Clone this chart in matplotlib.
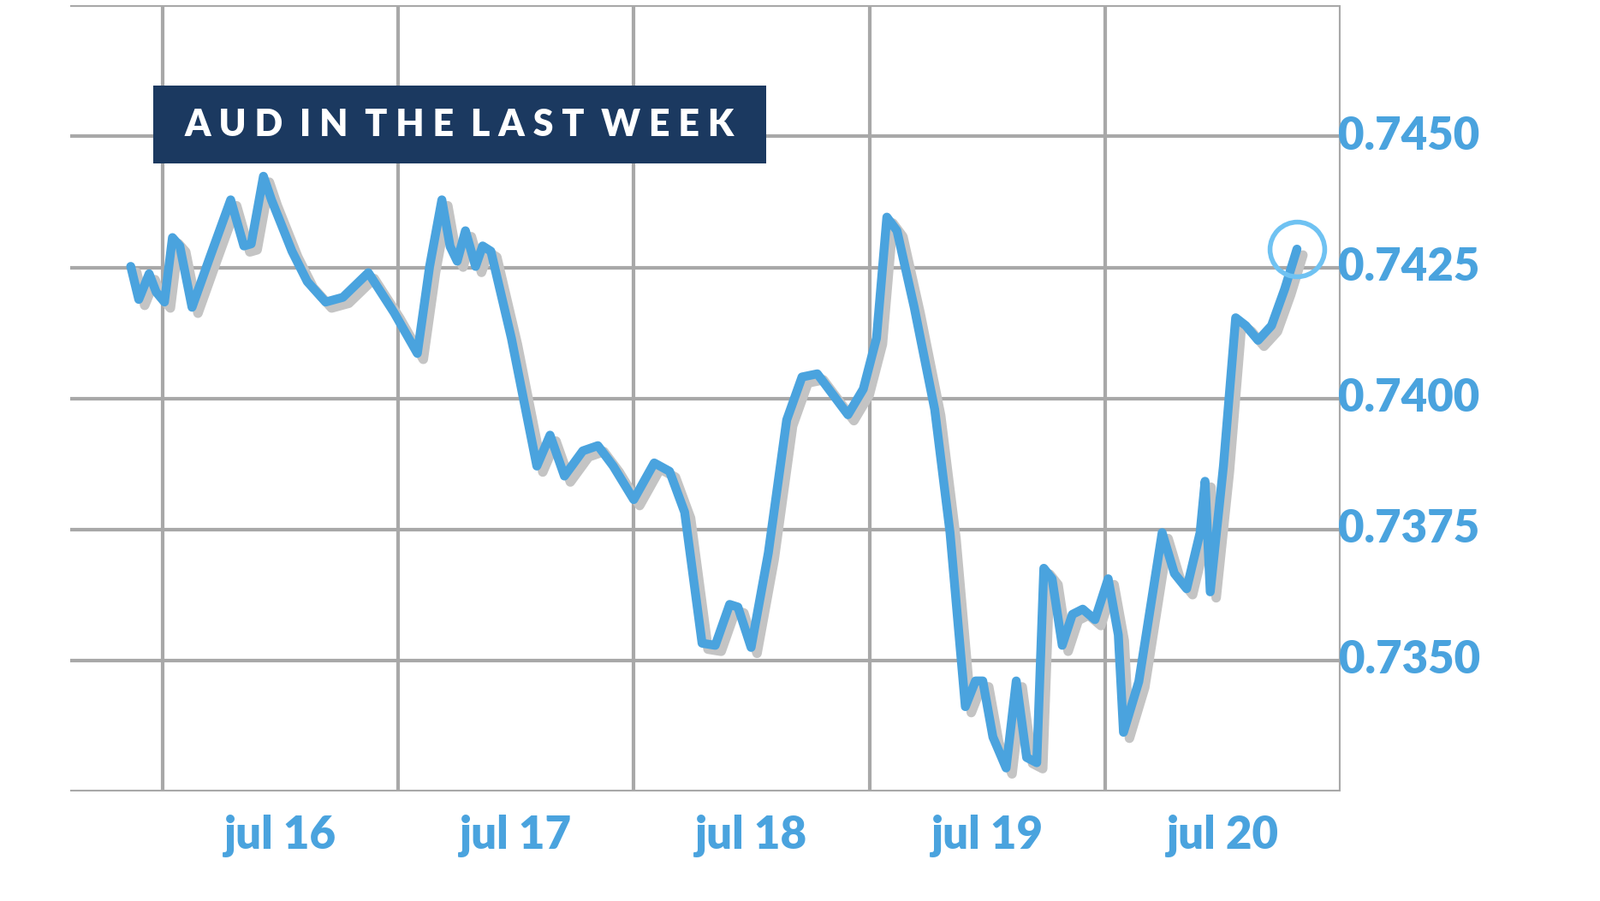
import matplotlib.pyplot as plt
import matplotlib.transforms as mtransforms
from matplotlib.patches import Rectangle

# Tage seit 16. Juli 00:00 und AUD-Kurs
days = [-0.134, -0.100, -0.056, -0.026, 0.009, 0.043, 0.074, 0.126, 0.203, 0.290,
        0.346, 0.377, 0.429, 0.463, 0.550, 0.615, 0.693, 0.766, 0.874, 0.983,
        1.082, 1.134, 1.186, 1.221, 1.251, 1.286, 1.329, 1.359, 1.394, 1.481,
        1.589, 1.645, 1.706, 1.784, 1.848, 1.913, 2.000, 2.087, 2.152, 2.216,
        2.290, 2.346, 2.407, 2.442, 2.498, 2.571, 2.649, 2.714, 2.779, 2.844,
        2.909, 2.974, 3.030, 3.074, 3.117, 3.190, 3.277, 3.342, 3.407, 3.450,
        3.481, 3.524, 3.580, 3.623, 3.667, 3.710, 3.740, 3.775, 3.818, 3.861,
        3.905, 3.957, 4.013, 4.056, 4.078, 4.143, 4.242, 4.294, 4.346, 4.403,
        4.424, 4.446, 4.502, 4.554, 4.597, 4.649, 4.706, 4.762, 4.814]
rates = [0.74252, 0.74189, 0.74238, 0.74203, 0.74184, 0.74307, 0.74291, 0.74174, 0.74271, 0.74379,
         0.74291, 0.74295, 0.74424, 0.74379, 0.74281, 0.74223, 0.74184, 0.74193, 0.74240, 0.74164,
         0.74086, 0.74252, 0.74379, 0.74290, 0.74262, 0.74320, 0.74252, 0.74291, 0.74281, 0.74115,
         0.73871, 0.73930, 0.73852, 0.73900, 0.73910, 0.73871, 0.73807, 0.73877, 0.73861, 0.73783,
         0.73533, 0.73529, 0.73607, 0.73602, 0.73525, 0.73705, 0.73959, 0.74041, 0.74047, 0.74008,
         0.73969, 0.74018, 0.74115, 0.74346, 0.74320, 0.74174, 0.73979, 0.73744, 0.73412, 0.73461,
         0.73461, 0.73354, 0.73295, 0.73461, 0.73315, 0.73305, 0.73676, 0.73656, 0.73529, 0.73588,
         0.73598, 0.73578, 0.73656, 0.73549, 0.73363, 0.73460, 0.73744, 0.73666, 0.73637, 0.73744,
         0.73842, 0.73631, 0.73871, 0.74154, 0.74139, 0.74111, 0.74139, 0.74209, 0.74285]
day_labels = ["jul 16", "jul 17", "jul 18", "jul 19", "jul 20"]
y_ticks = [0.7350, 0.7375, 0.7400, 0.7425, 0.7450]

blue = "#4aa3de"
fig = plt.figure(figsize=(18.69, 10.53), dpi=100)
ax = fig.add_axes([0.044, 0.1215, 0.794, 0.8725])
ax.set_xlim(-0.39, 5.0)
ax.set_ylim(0.7325, 0.7475)
for s in ax.spines.values():
    s.set_visible(False)
ax.set_xticks([])
ax.set_yticks([])

# Gitter
for d in range(6):
    ax.axvline(d, color="#a8a8a8", lw=3, zorder=1)
for v in [0.7325] + y_ticks + [0.7475]:
    ax.axhline(v, color="#a8a8a8", lw=3, zorder=1)

# Schatten + Linie
shadow = mtransforms.offset_copy(ax.transData, fig=fig, x=5, y=-5, units="points")
ax.plot(days, rates, color="#c4c4c4", lw=8, solid_joinstyle="round",
        solid_capstyle="round", transform=shadow, zorder=2)
ax.plot(days, rates, color=blue, lw=7.5, solid_joinstyle="round",
        solid_capstyle="round", zorder=3)
ax.plot(days[-1], rates[-1], "o", ms=46, mfc="none", mec="#6fc2f2", mew=4, zorder=4)

# Beschriftungen
for v in y_ticks:
    ax.text(5.29, v, f"{v:.4f}", color=blue, fontsize=38, fontweight="black",
            family="Lato", ha="center", va="center", clip_on=False)
for i, lab in enumerate(day_labels):
    ax.text(i + 0.5, 0.73165, lab, color=blue, fontsize=38, fontweight="black",
            family="Lato", ha="center", va="center", clip_on=False)

fig.patches.append(Rectangle((0.0956, 0.8188), 0.3831, 0.086, transform=fig.transFigure,
                             fc="#1b3960", ec="none"))
fig.text(0.2871, 0.8618, "A U D  I N  T H E  L A S T  W E E K", color="white", fontsize=31,
         fontweight="black", family="Lato", ha="center", va="center")

fig.savefig("out.png", dpi=100)
